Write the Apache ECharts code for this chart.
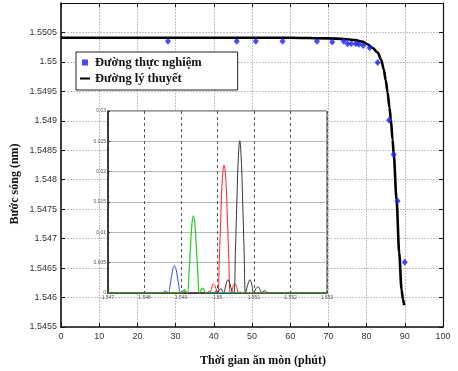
<!DOCTYPE html>
<html>
<head>
<meta charset="utf-8">
<script src="https://cdn.jsdelivr.net/npm/echarts@6/dist/echarts.min.js"></script>
<style>
html, body { margin: 0; padding: 0; background: #fff; }
#chart { width: 458px; height: 371px; }
</style>
</head>
<body>
<div id="chart"></div>
<script>
// Etching time (minutes) versus Bragg wavelength (µm), measured and modelled
const timeTheory = [0, 20, 40, 60, 70, 74, 77, 79, 80.2, 81.5, 82.9, 83.8, 84.5, 85.0, 85.5, 86.0, 86.35, 86.8, 87.1, 87.85, 88.53, 89.16, 89.5, 89.84];
const waveTheory = [1.55041, 1.55041, 1.55041, 1.55041, 1.5504, 1.55039, 1.55037, 1.55034, 1.5503, 1.55024, 1.55016, 1.55004, 1.54987, 1.54969, 1.54948, 1.54922, 1.54902, 1.54868, 1.54843, 1.54766, 1.54676, 1.54613, 1.54598, 1.54587];

const timeMeasured = [28, 46, 51, 58, 67, 71, 74, 75, 76, 77.2, 78, 79.1, 80.8, 82.9, 85.9, 87.1, 88.1, 90];
const waveMeasured = [1.55035, 1.55035, 1.55035, 1.55035, 1.55035, 1.55034, 1.55035, 1.55031, 1.55031, 1.55031, 1.5503, 1.55028, 1.55024, 1.54999, 1.54901, 1.54843, 1.54764, 1.5466];

// Reflection spectra at four etching stages: [wavelength, power]
const spectrumBlue = [[1.547, 0], [1.5485, 0], [1.54853, 0.0002], [1.54858, 0.0003], [1.54863, 0.0001], [1.54866, 0], [1.5487, 0.0012], [1.54874, 0.0027], [1.54878, 0.004], [1.54882, 0.0045], [1.54886, 0.004], [1.5489, 0.0027], [1.54894, 0.0012], [1.54898, 0], [1.54902, 0.0002], [1.54907, 0.0004], [1.54912, 0.0001], [1.54915, 0], [1.553, 0]];
const spectrumRed = [[1.547, 0], [1.5497, 0], [1.54976, 0.0003], [1.5498, 0.0002], [1.54984, 0.0008], [1.54988, 0.0015], [1.54993, 0.0012], [1.54998, 0.0003], [1.55001, 0], [1.55005, 0.0055], [1.55009, 0.0125], [1.55013, 0.0185], [1.55018, 0.0211], [1.55023, 0.0185], [1.55027, 0.0125], [1.55031, 0.0055], [1.55035, 0], [1.55039, 0.0004], [1.55044, 0.0013], [1.55048, 0.0015], [1.55053, 0.0009], [1.55057, 0], [1.55062, 0.0002], [1.55066, 0], [1.553, 0]];
const spectrumBlack = [[1.547, 0], [1.5499, 0], [1.54995, 0.0003], [1.55, 0.0001], [1.55005, 0.0005], [1.5501, 0.0007], [1.55014, 0.0002], [1.55017, 0], [1.55021, 0.0008], [1.55025, 0.0018], [1.55029, 0.0022], [1.55034, 0.0015], [1.5504, 0.0003], [1.55045, 0], [1.55049, 0.0067], [1.55053, 0.015], [1.55057, 0.0222], [1.55061, 0.0251], [1.55065, 0.0222], [1.55069, 0.015], [1.55073, 0.0067], [1.55077, 0], [1.55083, 0.0014], [1.55089, 0.0022], [1.55094, 0.0014], [1.55099, 0], [1.55105, 0.0007], [1.55111, 0.001], [1.55116, 0.0006], [1.5512, 0], [1.55125, 0.0002], [1.5513, 0.0004], [1.55135, 0.0001], [1.5514, 0], [1.553, 0]];
const spectrumGreen = [[1.547, 0], [1.549, 0], [1.54905, 0.0003], [1.5491, 0.0005], [1.54915, 0.0002], [1.54918, 0], [1.54922, 0.0034], [1.54926, 0.0076], [1.5493, 0.0114], [1.54934, 0.0127], [1.54938, 0.0114], [1.54942, 0.0076], [1.54946, 0.0034], [1.5495, 0], [1.54954, 0.0004], [1.54959, 0.0008], [1.54964, 0.0004], [1.54968, 0], [1.553, 0]];

const seriesNames = ['Đường thực nghiệm', 'Đường lý thuyết'];
const xTitle = 'Thời gian ăn mòn (phút)';
const yTitle = 'Bước sóng (nm)';

const pair = (xs, ys) => xs.map((x, i) => [x, ys[i]]);

const sans = 'Liberation Sans, Arial, sans-serif';
const serif = 'Liberation Serif, Times New Roman, serif';

const chart = echarts.init(document.getElementById('chart'), null, { renderer: 'canvas' });

const boxAxis = {
  axisLine: { show: true, onZero: false, lineStyle: { color: '#111', width: 1.2 } },
  axisTick: { show: true, inside: true, length: 4, lineStyle: { color: '#111' } },
  axisLabel: { show: false },
  splitLine: { show: false }
};

const insetZ = 10;

chart.setOption({
  animation: false,
  backgroundColor: '#fff',
  grid: [
    { left: 61, right: 15, top: 3, bottom: 44 },
    { left: 108, right: 131, top: 111, bottom: 78, show: true, backgroundColor: '#fff', borderColor: '#333', borderWidth: 1, z: insetZ }
  ],
  legend: {
    left: 76, top: 52, orient: 'vertical',
    itemWidth: 10, itemHeight: 6, itemGap: 3,
    padding: [4, 36, 5, 4],
    backgroundColor: '#fff', borderColor: '#222', borderWidth: 1,
    textStyle: { fontFamily: serif, fontWeight: 'bold', fontSize: 12.5, color: '#111' },
    data: [
      { name: seriesNames[0], icon: 'path://M0,0L6,0L6,6L0,6Z' },
      { name: seriesNames[1], icon: 'path://M0,0L40,0L40,8L0,8Z' }
    ]
  },
  xAxis: [
    {
      gridIndex: 0, type: 'value', min: 0, max: 100, interval: 10, position: 'bottom',
      axisLine: { show: true, onZero: false, lineStyle: { color: '#111', width: 1.6 } },
      axisTick: { show: true, inside: true, length: 4, lineStyle: { color: '#111' } },
      axisLabel: { fontFamily: sans, fontSize: 9, color: '#333', margin: 5 },
      splitLine: { show: true, lineStyle: { color: '#c4c4c4', width: 1, type: [2, 1] } }
    },
    Object.assign({ gridIndex: 0, type: 'value', min: 0, max: 100, interval: 10, position: 'top' }, boxAxis),
    {
      gridIndex: 1, type: 'value', min: 1.547, max: 1.553, interval: 0.001, z: insetZ + 1,
      axisLine: { show: true, onZero: false, lineStyle: { color: '#333', width: 1 } },
      axisTick: { show: true, inside: true, length: 2, lineStyle: { color: '#333' } },
      axisLabel: { fontFamily: sans, fontSize: 5, color: '#555', margin: 2, formatter: v => String(+v.toFixed(3)) },
      splitLine: { show: true, lineStyle: { color: '#555', width: 1, type: [3, 3] } }
    }
  ],
  yAxis: [
    {
      gridIndex: 0, type: 'value', min: 1.5455, max: 1.551, interval: 0.0005, position: 'left',
      axisLine: { show: true, onZero: false, lineStyle: { color: '#111', width: 1.6 } },
      axisTick: { show: true, inside: true, length: 4, lineStyle: { color: '#111' } },
      axisLabel: { fontFamily: sans, fontSize: 9, color: '#333', margin: 4, formatter: v => (v > 1.5508 ? '' : String(+v.toFixed(4))) },
      splitLine: { show: true, lineStyle: { color: '#c4c4c4', width: 1, type: [2, 1] } }
    },
    Object.assign({ gridIndex: 0, type: 'value', min: 1.5455, max: 1.551, interval: 0.0005, position: 'right' }, boxAxis),
    {
      gridIndex: 1, type: 'value', min: 0, max: 0.03, interval: 0.005, z: insetZ + 1,
      axisLine: { show: true, onZero: false, lineStyle: { color: '#222', width: 1.5 } },
      axisTick: { show: true, inside: true, length: 2, lineStyle: { color: '#333' } },
      axisLabel: { fontFamily: sans, fontSize: 5, color: '#555', margin: 2, formatter: v => String(+v.toFixed(3)) },
      splitLine: { show: true, lineStyle: { color: '#b8b8b8', width: 1 } }
    }
  ],
  series: [
    {
      name: seriesNames[0], type: 'scatter', xAxisIndex: 0, yAxisIndex: 0,
      data: pair(timeMeasured, waveMeasured),
      symbol: 'diamond', symbolSize: [6, 7],
      itemStyle: { color: '#1a1aff' }, z: 4
    },
    {
      name: seriesNames[1], type: 'line', xAxisIndex: 0, yAxisIndex: 0,
      data: pair(timeTheory, waveTheory),
      smooth: 0.3, smoothMonotone: 'x', showSymbol: false,
      lineStyle: { color: '#000', width: 2.6 }, itemStyle: { color: '#000' }, z: 3
    },
    { type: 'line', xAxisIndex: 2, yAxisIndex: 2, data: spectrumBlue, smooth: 0.4, showSymbol: false, lineStyle: { color: '#3344ff', width: 1 }, z: insetZ + 2 },
    { type: 'line', xAxisIndex: 2, yAxisIndex: 2, data: spectrumRed, smooth: 0.4, showSymbol: false, lineStyle: { color: '#ff2020', width: 1 }, z: insetZ + 2 },
    { type: 'line', xAxisIndex: 2, yAxisIndex: 2, data: spectrumBlack, smooth: 0.4, showSymbol: false, lineStyle: { color: '#333', width: 1 }, z: insetZ + 2 },
    { type: 'line', xAxisIndex: 2, yAxisIndex: 2, data: spectrumGreen, smooth: 0.4, showSymbol: false, lineStyle: { color: '#22cc22', width: 1.2 }, z: insetZ + 3 }
  ],
  graphic: [
    {
      type: 'text', x: 263, y: 361,
      style: { text: xTitle, fontFamily: serif, fontWeight: 'bold', fontSize: 12, fill: '#111', textAlign: 'center', textVerticalAlign: 'middle' }
    },
    {
      type: 'text', x: 15, y: 184, rotation: Math.PI / 2,
      style: { text: yTitle, fontFamily: serif, fontWeight: 'bold', fontSize: 12, fill: '#111', textAlign: 'center', textVerticalAlign: 'middle' }
    }
  ]
});
</script>
</body>
</html>
